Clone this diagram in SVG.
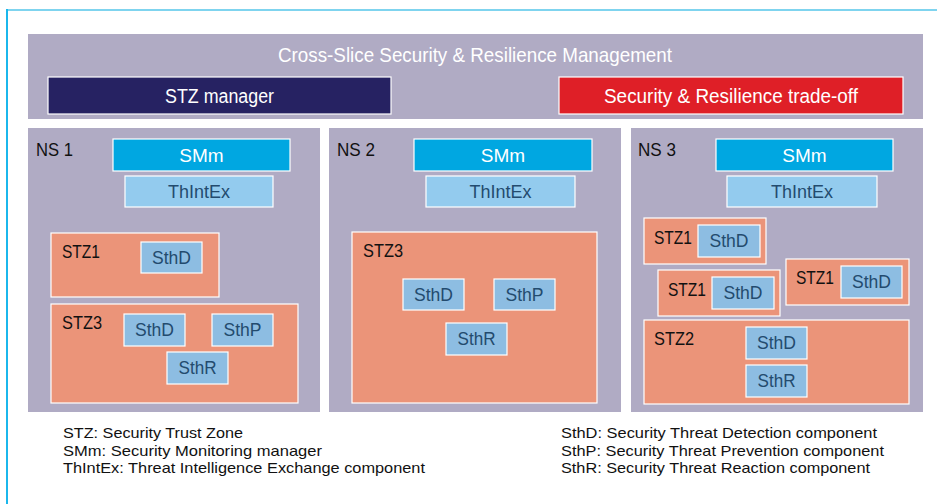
<svg xmlns="http://www.w3.org/2000/svg" width="937" height="504" viewBox="0 0 937 504">
<style>
text{font-family:"Liberation Sans",Arial,sans-serif}
.ns{fill:#b0abc4}
.box{stroke:#ffffff;stroke-width:1.2}
.smm{fill:#00a7e1}
.tie{fill:#93cbee}
.stz{fill:#eb9479}
.cmp{fill:#8dbde2}
.tw{fill:#ffffff}
.tb{fill:#111111}
.tc{fill:#234b6e}
.c{text-anchor:middle}
</style>
<rect x="0" y="0" width="937" height="504" fill="#ffffff"/>
<line x1="6" y1="10" x2="937" y2="10" stroke="#7fd4ef" stroke-width="2"/>
<line x1="7" y1="9" x2="7" y2="504" stroke="#1bb7ec" stroke-width="2"/>

<g id="cross-slice">
<rect class="ns" x="28" y="34" width="895" height="85"/>
<text class="tw" x="278" y="62" font-size="21" textLength="394" lengthAdjust="spacingAndGlyphs">Cross-Slice Security &amp; Resilience Management</text>
</g>
<g id="stz-manager">
<rect class="box" x="48" y="77" width="343" height="37" fill="#262262"/>
<text class="tw" x="165" y="103" font-size="20" textLength="109" lengthAdjust="spacingAndGlyphs">STZ manager</text>
</g>
<g id="tradeoff">
<rect class="box" x="559" y="77" width="344" height="37" fill="#df1f27"/>
<text class="tw" x="604" y="103" font-size="20" textLength="254" lengthAdjust="spacingAndGlyphs">Security &amp; Resilience trade-off</text>
</g>

<!-- NS 1 -->
<g id="ns1">
<rect class="ns" x="28" y="128" width="292" height="284"/>
<text class="tb" x="36" y="156" font-size="18" textLength="37" lengthAdjust="spacingAndGlyphs">NS 1</text>
<g id="ns1-smm"><rect class="box smm" x="113" y="139" width="177" height="32"/><text class="tw c" x="201.5" y="162" font-size="19">SMm</text></g>
<g id="ns1-thintex"><rect class="box tie" x="125" y="176" width="148" height="31"/><text class="tc c" x="199" y="198" font-size="19" textLength="62" lengthAdjust="spacingAndGlyphs">ThIntEx</text></g>
<g id="ns1-stz1"><rect class="box stz" x="51" y="233" width="168" height="64"/><text class="tb" x="62" y="258" font-size="18" textLength="38" lengthAdjust="spacingAndGlyphs">STZ1</text>
<rect class="box cmp" x="141" y="242" width="61" height="31"/><text class="tc c" x="171.5" y="264" font-size="18" textLength="39" lengthAdjust="spacingAndGlyphs">SthD</text></g>
<g id="ns1-stz3"><rect class="box stz" x="51" y="304" width="247" height="99"/><text class="tb" x="62" y="329" font-size="18" textLength="40" lengthAdjust="spacingAndGlyphs">STZ3</text>
<rect class="box cmp" x="124" y="314" width="61" height="32"/><text class="tc c" x="154.5" y="336" font-size="18" textLength="39" lengthAdjust="spacingAndGlyphs">SthD</text>
<rect class="box cmp" x="212" y="314" width="61" height="32"/><text class="tc c" x="242.5" y="336" font-size="18" textLength="38" lengthAdjust="spacingAndGlyphs">SthP</text>
<rect class="box cmp" x="167" y="352" width="61" height="32"/><text class="tc c" x="197.5" y="374" font-size="18" textLength="38" lengthAdjust="spacingAndGlyphs">SthR</text></g>
</g>

<!-- NS 2 -->
<g id="ns2">
<rect class="ns" x="329" y="128" width="292" height="284"/>
<text class="tb" x="337" y="156" font-size="18" textLength="38" lengthAdjust="spacingAndGlyphs">NS 2</text>
<g id="ns2-smm"><rect class="box smm" x="414" y="139" width="178" height="32"/><text class="tw c" x="503" y="162" font-size="19">SMm</text></g>
<g id="ns2-thintex"><rect class="box tie" x="426" y="176" width="149" height="31"/><text class="tc c" x="500.5" y="198" font-size="19" textLength="62" lengthAdjust="spacingAndGlyphs">ThIntEx</text></g>
<g id="ns2-stz3"><rect class="box stz" x="352" y="232" width="245" height="171"/><text class="tb" x="363" y="257" font-size="18" textLength="40" lengthAdjust="spacingAndGlyphs">STZ3</text>
<rect class="box cmp" x="403" y="279" width="61" height="31"/><text class="tc c" x="433.5" y="301" font-size="18" textLength="39" lengthAdjust="spacingAndGlyphs">SthD</text>
<rect class="box cmp" x="494" y="279" width="61" height="31"/><text class="tc c" x="524.5" y="301" font-size="18" textLength="38" lengthAdjust="spacingAndGlyphs">SthP</text>
<rect class="box cmp" x="446" y="323" width="61" height="32"/><text class="tc c" x="476.5" y="345" font-size="18" textLength="38" lengthAdjust="spacingAndGlyphs">SthR</text></g>
</g>

<!-- NS 3 -->
<g id="ns3">
<rect class="ns" x="631" y="128" width="292" height="284"/>
<text class="tb" x="638" y="156" font-size="18" textLength="38" lengthAdjust="spacingAndGlyphs">NS 3</text>
<g id="ns3-smm"><rect class="box smm" x="716" y="139" width="177" height="32"/><text class="tw c" x="804.5" y="162" font-size="19">SMm</text></g>
<g id="ns3-thintex"><rect class="box tie" x="727" y="176" width="150" height="31"/><text class="tc c" x="802" y="198" font-size="19" textLength="62" lengthAdjust="spacingAndGlyphs">ThIntEx</text></g>
<g id="ns3-stz1a"><rect class="box stz" x="644" y="218" width="122" height="46"/><text class="tb" x="654" y="244" font-size="18" textLength="38" lengthAdjust="spacingAndGlyphs">STZ1</text>
<rect class="box cmp" x="698" y="225" width="62" height="32"/><text class="tc c" x="729" y="247" font-size="18" textLength="39" lengthAdjust="spacingAndGlyphs">SthD</text></g>
<g id="ns3-stz1b"><rect class="box stz" x="658" y="270" width="122" height="46"/><text class="tb" x="668" y="296" font-size="18" textLength="38" lengthAdjust="spacingAndGlyphs">STZ1</text>
<rect class="box cmp" x="712" y="277" width="62" height="32"/><text class="tc c" x="743" y="299" font-size="18" textLength="39" lengthAdjust="spacingAndGlyphs">SthD</text></g>
<g id="ns3-stz1c"><rect class="box stz" x="786" y="259" width="123" height="46"/><text class="tb" x="796" y="284" font-size="18" textLength="38" lengthAdjust="spacingAndGlyphs">STZ1</text>
<rect class="box cmp" x="841" y="266" width="61" height="32"/><text class="tc c" x="871.5" y="288" font-size="18" textLength="39" lengthAdjust="spacingAndGlyphs">SthD</text></g>
<g id="ns3-stz2"><rect class="box stz" x="644" y="320" width="265" height="84"/><text class="tb" x="654" y="345" font-size="18" textLength="40" lengthAdjust="spacingAndGlyphs">STZ2</text>
<rect class="box cmp" x="746" y="327" width="61" height="32"/><text class="tc c" x="776.5" y="349" font-size="18" textLength="39" lengthAdjust="spacingAndGlyphs">SthD</text>
<rect class="box cmp" x="746" y="365" width="61" height="32"/><text class="tc c" x="776.5" y="387" font-size="18" textLength="38" lengthAdjust="spacingAndGlyphs">SthR</text></g>
</g>

<g id="connectors"></g>

<g id="legend" class="tb" font-size="15">
<text x="63" y="438" textLength="180" lengthAdjust="spacingAndGlyphs">STZ: Security Trust Zone</text>
<text x="63" y="456" textLength="259" lengthAdjust="spacingAndGlyphs">SMm: Security Monitoring manager</text>
<text x="63" y="473" textLength="362" lengthAdjust="spacingAndGlyphs">ThIntEx: Threat Intelligence Exchange component</text>
<text x="561" y="438" textLength="316" lengthAdjust="spacingAndGlyphs">SthD: Security Threat Detection component</text>
<text x="561" y="456" textLength="323" lengthAdjust="spacingAndGlyphs">SthP: Security Threat Prevention component</text>
<text x="561" y="473" textLength="309" lengthAdjust="spacingAndGlyphs">SthR: Security Threat Reaction component</text>
</g>
</svg>
